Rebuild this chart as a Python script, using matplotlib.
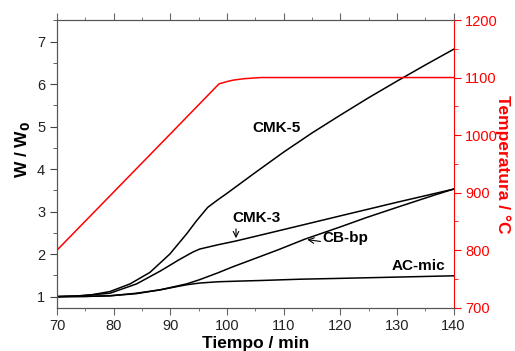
import numpy as np
import matplotlib.pyplot as plt
from matplotlib.ticker import MultipleLocator

plt.rcParams['font.family'] = ['Liberation Sans', 'DejaVu Sans']

# time axis (min) and normalised weight W/W0 for each sample
t_cmk5 = [70, 73, 76, 79.35, 82.9, 86.4, 89.9, 92.9, 94.6, 96.6, 98.4, 100, 105, 110,
          115, 120, 125, 130, 135, 140]
w_cmk5 = [1.0, 1.01, 1.04, 1.12, 1.3, 1.57, 2.0, 2.48, 2.78, 3.1, 3.28, 3.43, 3.92, 4.4,
          4.85, 5.27, 5.68, 6.07, 6.45, 6.82]

t_cmk3 = [70, 74, 79.35, 84.05, 88.2, 91.7, 94, 95.2, 98.4, 101.6, 106, 112.85, 120,
          130, 140]
w_cmk3 = [1.0, 1.02, 1.08, 1.3, 1.6, 1.88, 2.05, 2.12, 2.22, 2.31, 2.45, 2.67, 2.9,
          3.22, 3.53]

t_cbbp = [70, 75, 79.35, 84, 88.2, 92.9, 95.2, 98.4, 101, 105, 109, 113.7, 120, 124.6,
          130, 136.4, 140]
w_cbbp = [1.0, 1.005, 1.02, 1.08, 1.16, 1.3, 1.4, 1.56, 1.7, 1.9, 2.1, 2.35, 2.64, 2.86,
          3.1, 3.38, 3.53]

t_acmic = [70, 75, 79.35, 84, 88.2, 92.9, 95.2, 98.4, 102, 106, 112.85, 120, 130, 140]
w_acmic = [1.0, 1.005, 1.02, 1.07, 1.16, 1.28, 1.32, 1.35, 1.365, 1.38, 1.41, 1.43,
           1.46, 1.49]

# furnace temperature (C)
t_temp = [70, 90.8, 98.6, 100, 101.1, 103, 106, 140]
temp = [800, 1010, 1089, 1093, 1095.5, 1098, 1100, 1100]

labels = ['CMK-5', 'CMK-3', 'CB-bp', 'AC-mic']

fig = plt.figure(figsize=(5.15, 3.51), dpi=100)
ax = fig.add_axes([0.1107, 0.1234, 0.7699, 0.8196])
ax2 = ax.twinx()

for tt, ww in [(t_cmk5, w_cmk5), (t_cmk3, w_cmk3), (t_cbbp, w_cbbp), (t_acmic, w_acmic)]:
    ax.plot(tt, ww, color='black', lw=1.1)
ax2.plot(t_temp, temp, color='red', lw=1.1)

ax.set_xlim(70, 140)
ax.set_ylim(0.74, 7.51)
ax2.set_ylim(700, 1200)

ax.xaxis.set_major_locator(MultipleLocator(10))
ax.xaxis.set_minor_locator(MultipleLocator(5))
ax.yaxis.set_major_locator(MultipleLocator(1))
ax.yaxis.set_minor_locator(MultipleLocator(0.5))
ax2.yaxis.set_major_locator(MultipleLocator(100))
ax2.yaxis.set_minor_locator(MultipleLocator(50))

ax.tick_params(axis='both', which='major', direction='out', length=5, labelsize=10.5,
               color='#444444', labelcolor='#222222')
ax.tick_params(axis='both', which='minor', direction='out', length=3, color='#444444')
ax.tick_params(axis='x', which='both', top=True, labeltop=False)
ax.tick_params(axis='x', which='both', length=2, color='#666666')
ax.tick_params(axis='x', which='major', bottom=True, length=5)
ax2.tick_params(axis='y', which='major', direction='out', length=5, labelsize=10.5,
                colors='red')
ax2.tick_params(axis='y', which='minor', direction='out', length=3, colors='red')

for s in ['left', 'top', 'bottom']:
    ax.spines[s].set_color('#555555')
    ax2.spines[s].set_color('#555555')
ax2.spines['right'].set_color('red')
ax.spines['right'].set_visible(False)

ax.set_xlabel('Tiempo / min', fontsize=12.5, fontweight='bold', labelpad=2)
ax.set_ylabel('W / W$_\\mathbf{0}$', fontsize=12.5, fontweight='bold')
ax.yaxis.set_label_coords(-0.062, 0.55)
ax2.set_ylabel('Temperatura / °C', fontsize=12.5, fontweight='bold', color='red',
               rotation=270, labelpad=9)

ax.text(108.8, 4.97, labels[0], fontsize=11, fontweight='bold', ha='center', va='center')
ax.text(105.2, 2.84, labels[1], fontsize=11, fontweight='bold', ha='center', va='center')
ax.annotate('', xy=(101.6, 2.31), xytext=(101.6, 2.66),
            arrowprops=dict(arrowstyle='->', color='black', lw=0.8))
ax.text(120.9, 2.39, labels[2], fontsize=11, fontweight='bold', ha='center', va='center')
ax.annotate('', xy=(113.7, 2.35), xytext=(117.0, 2.29),
            arrowprops=dict(arrowstyle='->', color='black', lw=0.8))
ax.text(133.85, 1.73, labels[3], fontsize=11, fontweight='bold', ha='center', va='center')

fig.savefig('out.png', dpi=100)
